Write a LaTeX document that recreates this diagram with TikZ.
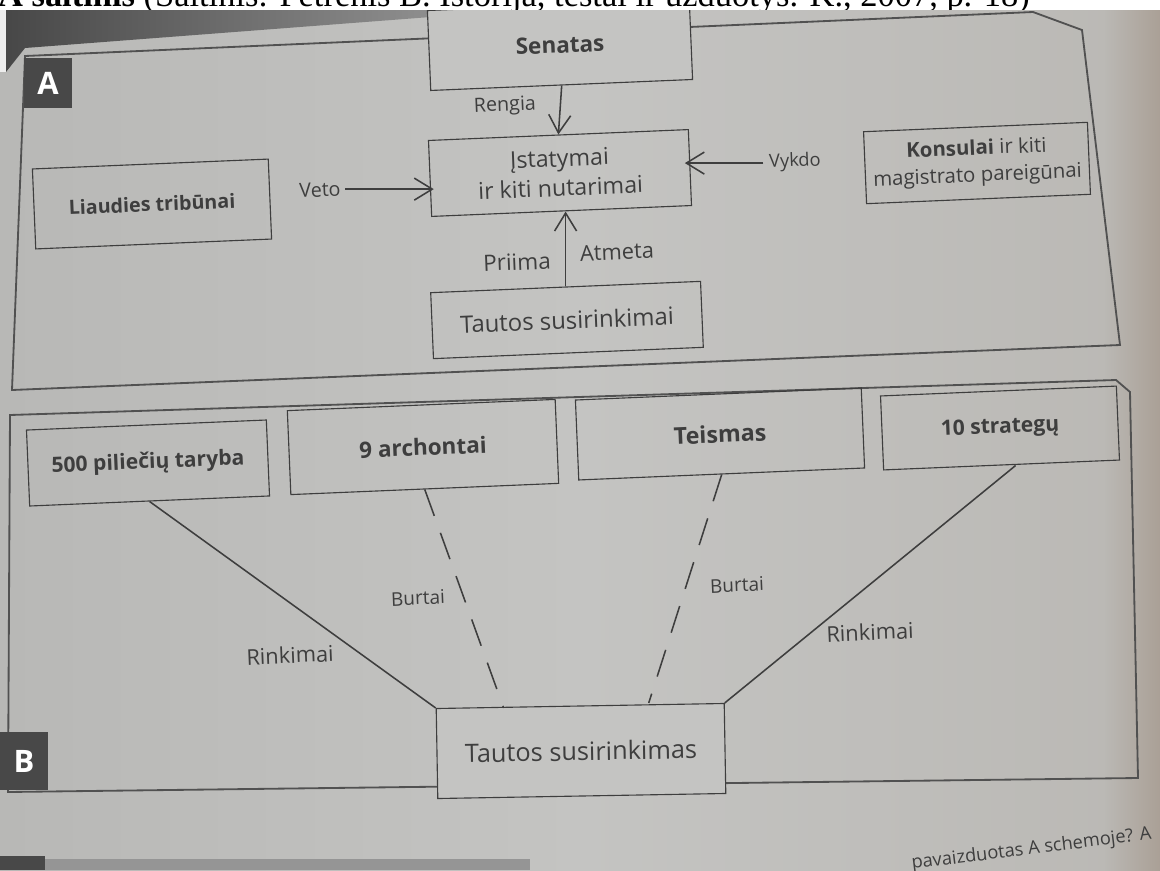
\documentclass[tikz,border=0pt]{standalone}
\usepackage{fontspec}
\setmainfont{Open Sans}
\newfontfamily\captionfont{Liberation Serif}
\usetikzlibrary{arrows.meta}
\definecolor{ink}{RGB}{62,62,62}
\definecolor{paperL}{RGB}{184,184,182}
\definecolor{paperM}{RGB}{196,196,194}
\definecolor{paperR}{RGB}{186,184,180}
\definecolor{edge}{RGB}{170,160,150}

\begin{document}
\begin{tikzpicture}[x=0.025cm,y=-0.025cm]

\tikzset{box/.style={draw=ink, line width=0.8pt, rotate=2.4, align=center,
    inner sep=0pt, text=ink},
  tag/.style={fill=ink!95, text=white!88, inner sep=0pt,
    font=\bfseries\fontsize{22}{24}\selectfont},
  lbl/.style={text=ink, rotate=2.4, inner sep=0pt},
  frame/.style={draw=ink!90, line width=1.3pt},
  link/.style={draw=ink, line width=1.1pt},
  arrow/.style={link, -{Straight Barb[length=4.5mm,width=5.5mm]}},
  lots/.style={link, dash pattern=on 0.7cm off 0.45cm}
}
\useasboundingbox (0,0) rectangle (1160,870);
\clip (0,0) rectangle (1160,870);

% page
\fill[left color=paperL, right color=paperR, middle color=paperM] (0,0) rectangle (1160,870);
\shade[left color=paperR, right color=edge] (1105,0) rectangle (1160,870);
\fill[white!75!paperL] (0,9) rectangle (6,72);
\shade[left color=ink!95, right color=ink!55] (6,9) -- (470,9) -- (470,14) -- (25,48) -- (6,72) -- cycle;
\fill[ink!95] (0,856) rectangle (45,870);
\fill[ink!55] (45,859) rectangle (530,870);

% frames
\draw[frame] (25,56) -- (1033,12) -- (1082,30) -- (1120,345) -- (12,390) -- cycle;
\draw[frame] (10,415) -- (1116,380) -- (1130,392) -- (1138,778) -- (8,792) -- cycle;
\node[tag, minimum width=1.18cm, minimum height=1.25cm] (tagA) at (48,83) {A};
\node[tag, minimum width=1.2cm, minimum height=1.43cm] (tagB) at (24,761) {B};

% A
\node[box, fill=paperM, minimum width=6.55cm, minimum height=2cm, font=\bfseries\fontsize{16}{18}\selectfont] (senatas) at (560,45) {Senatas};
\node[box, minimum width=6.5cm, minimum height=1.9cm, font=\fontsize{16.5}{21}\selectfont] (istat) at (560,173) {Įstatymai\\ir kiti nutarimai};
\node[box, minimum width=5.6cm, minimum height=1.8cm, font=\fontsize{14.5}{19}\selectfont] (konsul) at (977,163) {\textbf{Konsulai} ir kiti\\magistrato pareigūnai};
\node[box, minimum width=5.9cm, minimum height=2cm, font=\bfseries\fontsize{14}{16}\selectfont] (tribunai) at (152,204) {Liaudies tribūnai};
\node[box, minimum width=6.75cm, minimum height=1.65cm, font=\fontsize{17}{19}\selectfont] (tautosA) at (567,320) {Tautos susirinkimai};

\node[lbl, font=\fontsize{14}{16}\selectfont] (rengia) at (505,106) {Rengia};
\node[lbl, font=\fontsize{14}{16}\selectfont] (veto) at (320,190) {Veto};
\node[lbl, font=\fontsize{13}{16}\selectfont] (vykdo) at (795,162) {Vykdo};
\node[lbl, font=\fontsize{16}{18}\selectfont] (priima) at (517,262) {Priima};
\node[lbl, font=\fontsize{15.5}{18}\selectfont] (atmeta) at (617,252) {Atmeta};

\draw[arrow] (senatas.south) -- (istat.north);
\draw[arrow] ([xshift=3pt]veto.east) -- ([xshift=3pt]veto.east -| istat.west);
\draw[arrow] ([xshift=-4pt]vykdo.west) -- ([xshift=-4pt]vykdo.west -| istat.east);
\draw[arrow] (tautosA.north) -- (tautosA.north |- istat.south);

% B
\node[box, minimum width=6cm, minimum height=1.9cm, font=\bfseries\fontsize{15}{17}\selectfont] (taryba) at (148,463) {500 piliečių taryba};
\node[box, minimum width=6.7cm, minimum height=2.1cm, font=\bfseries\fontsize{16}{18}\selectfont] (archont) at (423,447) {9 archontai};
\node[box, minimum width=7.15cm, minimum height=2cm, font=\bfseries\fontsize{16.5}{19}\selectfont] (teismas) at (720,434) {Teismas};
\node[box, minimum width=5.9cm, minimum height=1.85cm, font=\bfseries\fontsize{15}{17}\selectfont] (strateg) at (1000,428) {10 strategų};
\node[box, rotate=-1.4, fill=paperM, minimum width=7.2cm, minimum height=2.25cm, font=\fontsize{18}{20}\selectfont] (tautosB) at (581,751) {Tautos susirinkimas};

\node[lbl, font=\fontsize{15.5}{18}\selectfont] (rinkL) at (290,655) {Rinkimai};
\node[lbl, font=\fontsize{13.5}{16}\selectfont] (burtL) at (418,598) {Burtai};
\node[lbl, font=\fontsize{13.5}{16}\selectfont] (burtR) at (737,585) {Burtai};
\node[lbl, font=\fontsize{15.5}{18}\selectfont] (rinkR) at (870,632) {Rinkimai};

\draw[link] (taryba.south) -- (tautosB.north west);
\draw[lots] (archont.south) -- ([xshift=1.7cm]tautosB.north west);
\draw[lots] (teismas.south) -- ([xshift=-1.9cm]tautosB.north east);
\draw[link] ([xshift=0.35cm]strateg.south) -- (tautosB.north east);

% page text
\fill[white] (0,0) rectangle (1160,9.5);
\begin{scope}
\clip (0,0) rectangle (1160,9.5);
\node[anchor=base east, inner sep=0pt, font=\captionfont\fontsize{24.5}{26}\selectfont] (source) at (1030,6) {\textbf{A šaltinis} (Šaltinis: Petrėnis B. Istorija, testai ir užduotys. K., 2007, p. 18)};
\end{scope}
\node[anchor=base west, rotate=7, inner sep=0pt, text=ink, font=\fontsize{13}{15}\selectfont] (question) at (912,869) {pavaizduotas A schemoje? A};

\end{tikzpicture}
\end{document}
